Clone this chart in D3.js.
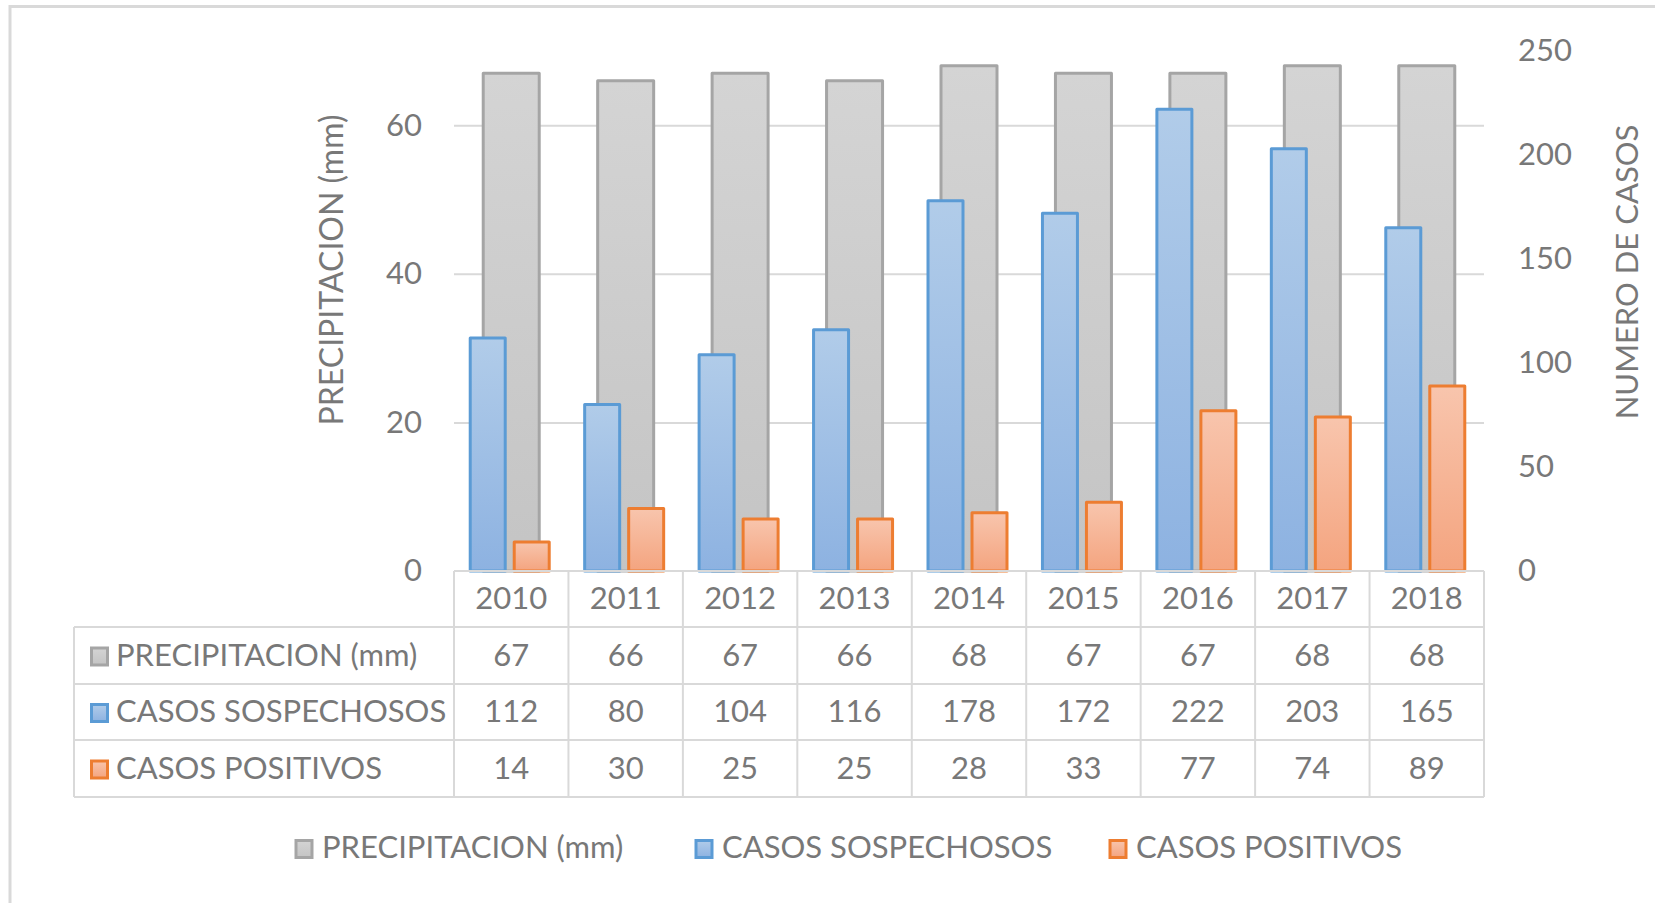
<!DOCTYPE html>
<html>
<head>
<meta charset="utf-8">
<script src="https://cdn.jsdelivr.net/npm/d3@7"></script>
<style>
  html, body { margin: 0; padding: 0; background: #fff; }
  svg { display: block; font-family: Lato, "Open Sans", sans-serif; }
  text { fill: #787878; }
</style>
</head>
<body>
<svg id="chart" width="1655" height="903"></svg>
<script>
// Yearly precipitation and case counts
const years = ["2010", "2011", "2012", "2013", "2014", "2015", "2016", "2017", "2018"];
const precipitation = [67, 66, 67, 66, 68, 67, 67, 68, 68];
const suspectedCases = [112, 80, 104, 116, 178, 172, 222, 203, 165];
const positiveCases = [14, 30, 25, 25, 28, 33, 77, 74, 89];

const leftTicks = [0, 20, 40, 60];
const rightTicks = [0, 50, 100, 150, 200, 250];

const seriesNames = ["PRECIPITACION (mm)", "CASOS SOSPECHOSOS", "CASOS POSITIVOS"];
const seriesValues = [precipitation, suspectedCases, positiveCases];
const seriesStyle = [
  { id: "gGray",   top: "#d4d4d4", bottom: "#c4c4c4", stroke: "#a5a5a5" },
  { id: "gBlue",   top: "#b1cce9", bottom: "#8db2e1", stroke: "#5b9bd5" },
  { id: "gOrange", top: "#f8c5ad", bottom: "#f4a47f", stroke: "#ed7d31" }
];

const svg = d3.select("#chart");
const FONT = 31;
const GRID = "#d9d9d9";
const TEXT_SHIFT = -3;

// plot geometry
const plotLeft = 454, plotRight = 1484, plotTop = 51, baseline = 571;

const x = d3.scaleBand().domain(years).range([plotLeft, plotRight]);
const yLeft = d3.scaleLinear().domain([0, 70]).range([baseline, plotTop]);
const yRight = d3.scaleLinear().domain([0, 250]).range([baseline, plotTop]);
const inner = d3.scaleBand().domain(["s", "p"]).range([-44, 44]);

// gradients
const defs = svg.append("defs");
seriesStyle.forEach(s => {
  const g = defs.append("linearGradient").attr("id", s.id)
    .attr("x1", 0).attr("y1", 0).attr("x2", 0).attr("y2", 1);
  g.append("stop").attr("offset", "0%").attr("stop-color", s.top);
  g.append("stop").attr("offset", "100%").attr("stop-color", s.bottom);
});

// outer chart frame
svg.append("rect")
  .attr("x", 10).attr("y", 6.5).attr("width", 1700).attr("height", 950)
  .attr("fill", "none").attr("stroke", "#d9d9d9").attr("stroke-width", 3);

// horizontal gridlines (left axis)
svg.append("g")
  .attr("transform", `translate(${plotLeft},0)`)
  .call(d3.axisLeft(yLeft).tickValues(leftTicks.filter(t => t > 0))
    .tickSize(-(plotRight - plotLeft)).tickFormat(""))
  .call(g => g.select(".domain").remove())
  .call(g => g.selectAll("line").attr("stroke", GRID).attr("stroke-width", 2));

// left axis labels
svg.append("g")
  .attr("transform", `translate(${plotLeft - 32},0)`)
  .call(d3.axisLeft(yLeft).tickValues(leftTicks).tickSize(0).tickPadding(0))
  .call(g => g.select(".domain").remove())
  .call(g => g.selectAll("text").attr("font-size", FONT).attr("font-family", "Lato").attr("fill", "#787878"));

// right axis labels
svg.append("g")
  .attr("transform", `translate(1518,0)`)
  .call(d3.axisRight(yRight).tickValues(rightTicks).tickSize(0).tickPadding(0))
  .call(g => g.select(".domain").remove())
  .call(g => g.selectAll("text").attr("font-size", FONT).attr("font-family", "Lato").attr("fill", "#787878"));

// axis titles
svg.append("text")
  .attr("transform", `translate(330,270) rotate(-90)`)
  .attr("text-anchor", "middle").attr("dominant-baseline", "central")
  .attr("font-size", 32).text("PRECIPITACION (mm)");
svg.append("text")
  .attr("transform", `translate(1626,272) rotate(-90)`)
  .attr("text-anchor", "middle").attr("dominant-baseline", "central")
  .attr("font-size", FONT).text("NUMERO DE CASOS");

// precipitation bars (primary axis, behind)
const grayW = 56;
svg.append("g").selectAll("rect")
  .data(years.map((y, i) => ({ year: y, v: precipitation[i] })))
  .join("rect")
  .attr("x", d => x(d.year) + x.bandwidth() / 2 - grayW / 2)
  .attr("y", d => yLeft(d.v))
  .attr("width", grayW)
  .attr("height", d => yLeft(0) - yLeft(d.v))
  .attr("fill", "url(#gGray)").attr("stroke", seriesStyle[0].stroke)
  .attr("stroke-width", 3).attr("stroke-linejoin", "round");

// case bars (secondary axis, in front)
const caseW = 35;
const caseSeries = [
  { key: "s", values: suspectedCases, style: seriesStyle[1] },
  { key: "p", values: positiveCases, style: seriesStyle[2] }
];
caseSeries.forEach(cs => {
  svg.append("g").selectAll("rect")
    .data(years.map((y, i) => ({ year: y, v: cs.values[i] })))
    .join("rect")
    .attr("x", d => x(d.year) + x.bandwidth() / 2 - 1.5 + inner(cs.key) + inner.bandwidth() / 2 - caseW / 2)
    .attr("y", d => yRight(d.v))
    .attr("width", caseW)
    .attr("height", d => yRight(0) - yRight(d.v))
    .attr("fill", `url(#${cs.style.id})`).attr("stroke", cs.style.stroke)
    .attr("stroke-width", 3).attr("stroke-linejoin", "round");
});

// data table
const tableLeft = 74;
const rowEdges = [571, 627, 684, 740, 797];
const table = svg.append("g");
const lineAttrs = sel => sel.attr("stroke", GRID).attr("stroke-width", 2);

// horizontal rules
rowEdges.forEach((yy, i) => {
  table.append("line")
    .attr("x1", i === 0 ? plotLeft : tableLeft).attr("x2", plotRight)
    .attr("y1", yy).attr("y2", yy).call(lineAttrs);
});
// vertical rules
table.append("line").attr("x1", tableLeft).attr("x2", tableLeft)
  .attr("y1", rowEdges[1]).attr("y2", rowEdges[4]).call(lineAttrs);
const colEdges = years.map(y => x(y)).concat([plotRight]);
colEdges.forEach(xx => {
  table.append("line").attr("x1", xx).attr("x2", xx)
    .attr("y1", rowEdges[0]).attr("y2", rowEdges[4]).call(lineAttrs);
});

// header row: years
table.selectAll("text.yr").data(years).join("text").attr("class", "yr")
  .attr("x", d => x(d) + x.bandwidth() / 2)
  .attr("y", (rowEdges[0] + rowEdges[1]) / 2 + 1 + TEXT_SHIFT)
  .attr("text-anchor", "middle").attr("dominant-baseline", "central")
  .attr("font-size", FONT).text(d => d);

// data rows
seriesNames.forEach((name, r) => {
  const cy = (rowEdges[r + 1] + rowEdges[r + 2]) / 2 + 1;
  table.append("rect")
    .attr("x", 91.5).attr("y", cy - 8.5).attr("width", 16).attr("height", 17)
    .attr("fill", `url(#${seriesStyle[r].id})`).attr("stroke", seriesStyle[r].stroke)
    .attr("stroke-width", 3);
  table.append("text")
    .attr("x", 116).attr("y", cy + TEXT_SHIFT)
    .attr("dominant-baseline", "central").attr("font-size", FONT).text(name);
  table.selectAll(null).data(seriesValues[r]).join("text")
    .attr("x", (d, i) => x(years[i]) + x.bandwidth() / 2)
    .attr("y", cy + TEXT_SHIFT)
    .attr("text-anchor", "middle").attr("dominant-baseline", "central")
    .attr("font-size", FONT).text(d => d);
});

// legend
const legendY = 849;
const legendX = [296, 696, 1110];
seriesNames.forEach((name, i) => {
  const g = svg.append("g").attr("transform", `translate(${legendX[i]},${legendY})`);
  g.append("rect").attr("x", 0).attr("y", -8.5).attr("width", 16).attr("height", 17)
    .attr("fill", `url(#${seriesStyle[i].id})`).attr("stroke", seriesStyle[i].stroke)
    .attr("stroke-width", 3);
  g.append("text").attr("x", 26).attr("y", TEXT_SHIFT)
    .attr("dominant-baseline", "central").attr("font-size", FONT).text(name);
});
</script>
</body>
</html>
